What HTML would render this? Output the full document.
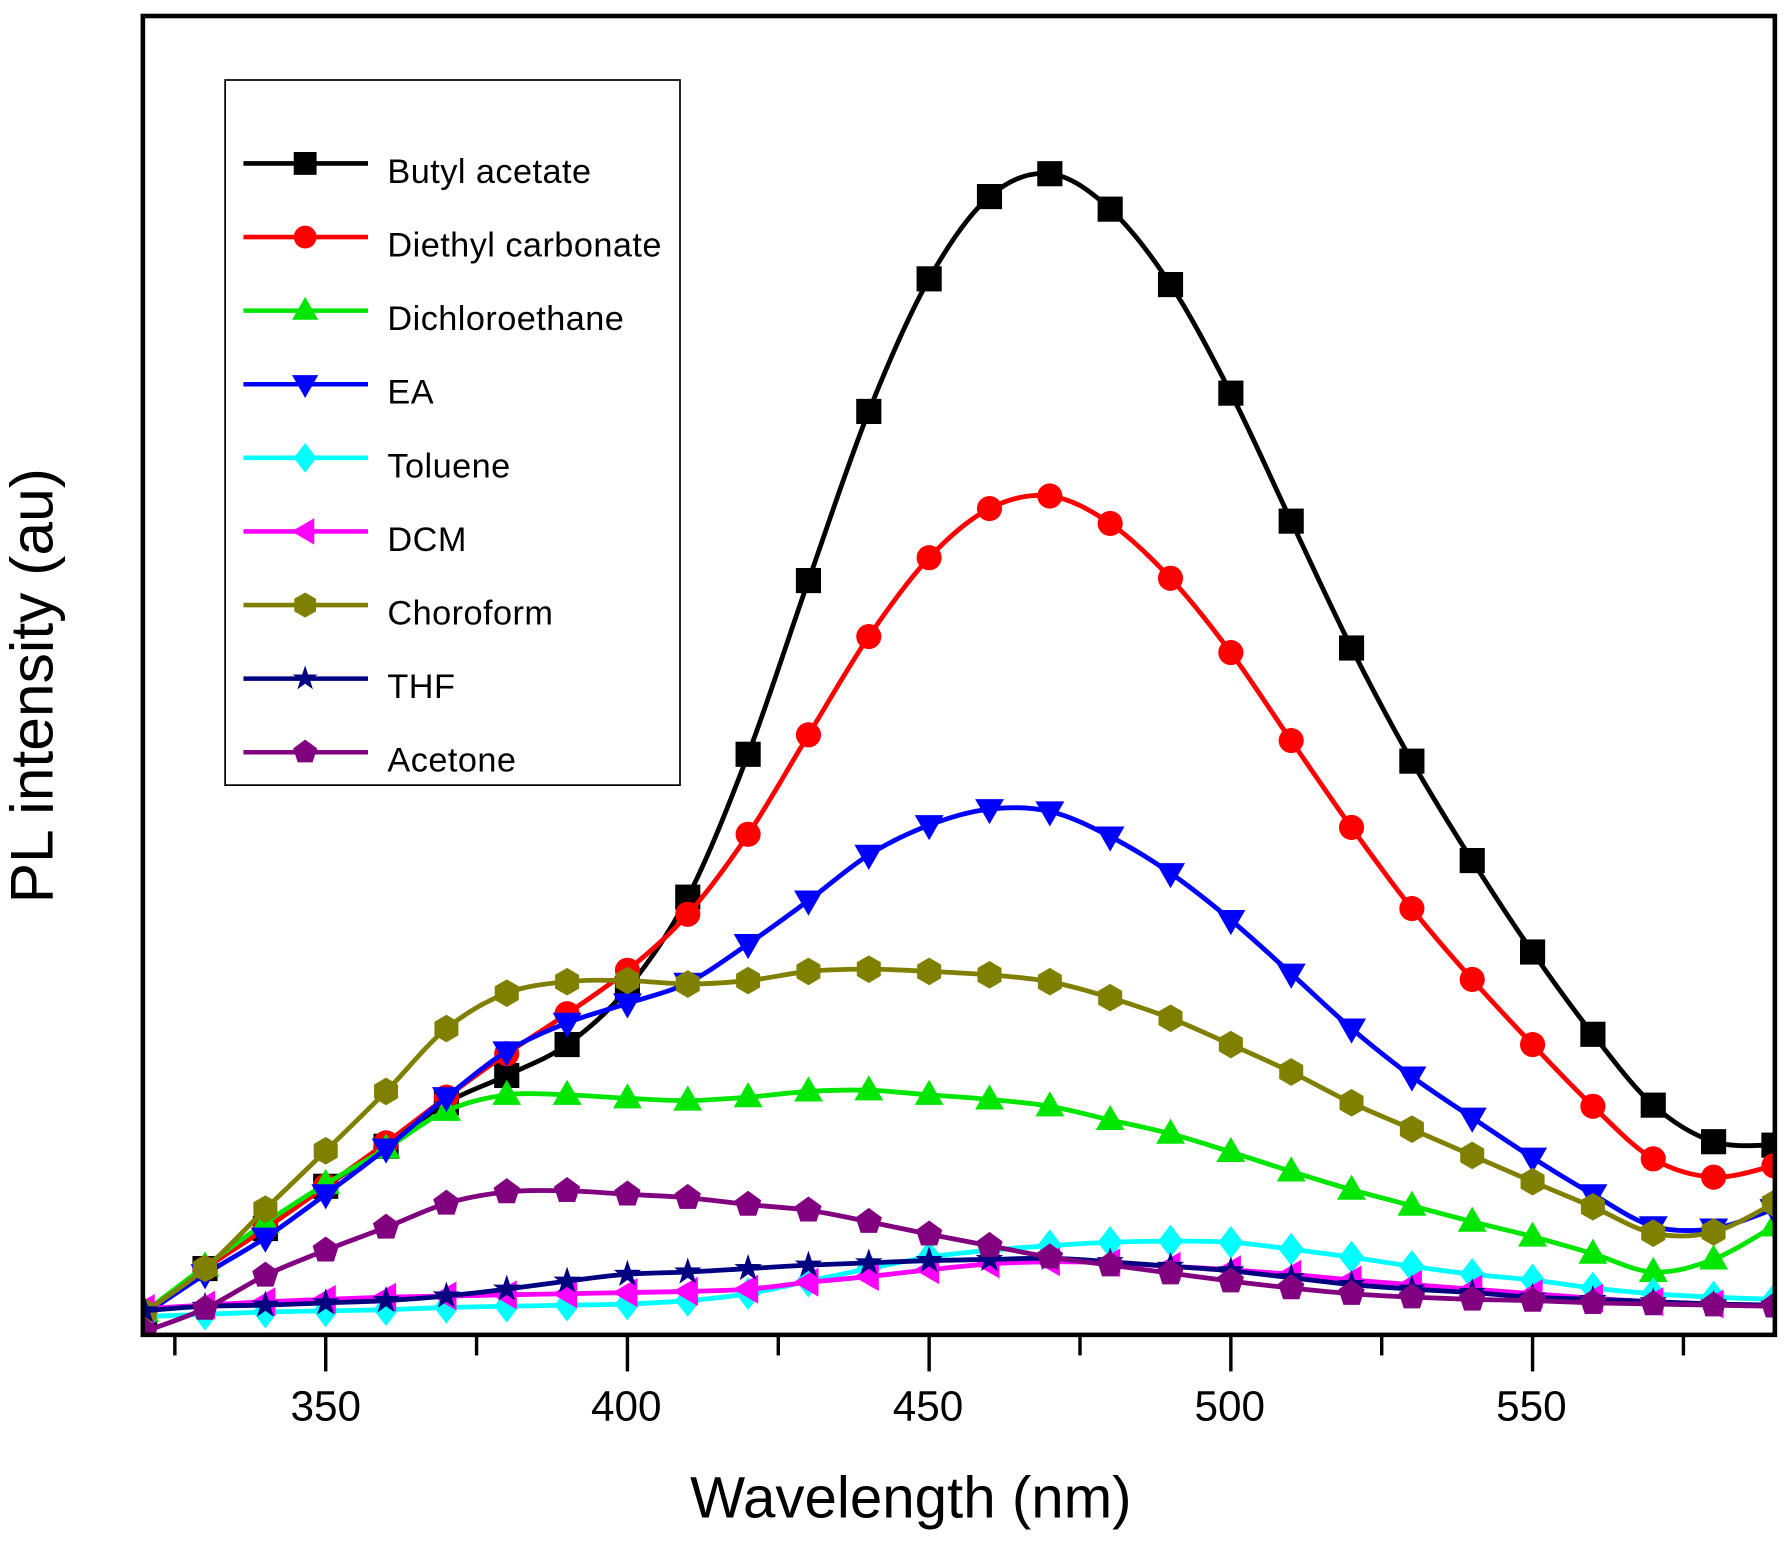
<!DOCTYPE html>
<html><head><meta charset="utf-8"><style>
html,body{margin:0;padding:0;background:#fff}
svg{display:block}
text{font-family:"Liberation Sans",Arial,sans-serif;fill:#000}
</style></head><body>
<svg id="s" width="1792" height="1544" viewBox="0 0 1568 1351" preserveAspectRatio="none" xmlns="http://www.w3.org/2000/svg">
<defs><clipPath id="c"><rect x="125" y="14" width="1428" height="1154"/></clipPath></defs>
<rect x="0" y="0" width="1568" height="1351" fill="#fff"/>
<g id="plot" clip-path="url(#c)"></g>
<rect x="125" y="14" width="1428" height="1154" fill="none" stroke="#000" stroke-width="4"/>
<g id="ticks" stroke="#000" stroke-width="3"></g>
<g font-size="37" text-anchor="middle">
<text x="285" y="1243">350</text><text x="548" y="1243">400</text><text x="812" y="1243">450</text><text x="1076" y="1243">500</text><text x="1340" y="1243">550</text>
</g>
<text x="797" y="1328" font-size="51" text-anchor="middle">Wavelength (nm)</text>
<text transform="translate(46,600) rotate(-90)" font-size="53" text-anchor="middle">PL intensity (au)</text>
<rect x="197" y="70" width="398" height="617" fill="#fff" stroke="#000" stroke-width="1.5"/>
<g id="leg"></g>
</svg>
<script>
var X=function(l){return 285+(l-350)*5.28};
var S=[
["Butyl acetate","#000","sq",[1150,1110,1075,1038,1003,965,941,914,865,785,660,508,360,244,172,152,183,249,344,456,567,666,753,833,905,967,999,1002]],
["Diethyl carbonate","#ff0000","ci",[1150,1110,1075,1038,1000,960,922,887,849,800,730,643,557,488,445,434,458,506,571,648,724,795,857,914,968,1014,1030,1020]],
["Dichloroethane","#00e600","tu",[1148,1108,1070,1036,1005,972,958,958,961,963,960,955,954,958,962,968,980,992,1008,1025,1041,1055,1069,1082,1097,1113,1102,1073]],
["EA","#0000ff","td",[1150,1115,1083,1045,1005,960,920,895,878,860,826,788,748,722,708,710,732,764,805,852,900,942,978,1013,1045,1073,1075,1058]],
["Toluene","#00ffff","di",[1152,1150,1148,1147,1146,1144,1143,1142,1141,1138,1132,1121,1110,1100,1094,1090,1087,1086,1087,1093,1100,1108,1115,1120,1127,1132,1135,1137]],
["DCM","#ff00ff","tl",[1145,1142,1139,1137,1135,1134,1133,1132,1131,1130,1128,1122,1117,1111,1106,1104,1105,1108,1111,1115,1120,1124,1128,1132,1136,1139,1141,1142]],
["Choroform","#808000","hx",[1148,1110,1058,1007,955,900,869,859,858,861,858,850,848,850,853,859,873,891,914,938,965,988,1011,1034,1056,1079,1078,1053]],
["THF","#000080","st",[1147,1143,1142,1140,1138,1134,1128,1121,1115,1113,1110,1107,1105,1103,1102,1101,1104,1108,1112,1118,1124,1128,1131,1135,1137,1139,1141,1142]],
["Acetone","#800080","pe",[1165,1145,1116,1094,1074,1053,1043,1042,1045,1048,1054,1059,1069,1080,1090,1100,1107,1114,1121,1127,1132,1135,1137,1138,1140,1141,1142,1143]]
];
function mk(t,x,y,c,r){r=r||11;
 if(t=="sq")return '<rect x="'+(x-r)+'" y="'+(y-r)+'" width="'+2*r+'" height="'+2*r+'" fill="'+c+'"/>';
 if(t=="ci")return '<circle cx="'+x+'" cy="'+y+'" r="'+r+'" fill="'+c+'"/>';
 function poly(pts){return '<polygon points="'+pts.map(function(a){return (x+a[0]).toFixed(1)+','+(y+a[1]).toFixed(1)}).join(' ')+'" fill="'+c+'"/>';}
 if(t=="tu")return poly([[0,-r*1.2],[r*1.15,r*0.8],[-r*1.15,r*0.8]]);
 if(t=="td")return poly([[0,r*1.2],[r*1.15,-r*0.8],[-r*1.15,-r*0.8]]);
 if(t=="tl")return poly([[-r*1.2,0],[r*0.8,r*1.15],[r*0.8,-r*1.15]]);
 if(t=="di")return poly([[0,-r*1.3],[r,0],[0,r*1.3],[-r,0]]);
 var a=[],i,rr,g;
 if(t=="hx"){for(i=0;i<6;i++){g=Math.PI/6+i*Math.PI/3;a.push([r*1.1*Math.cos(g),r*1.1*Math.sin(g)])}return poly(a);}
 if(t=="pe"){for(i=0;i<5;i++){g=-Math.PI/2+i*2*Math.PI/5;a.push([r*1.1*Math.cos(g),r*1.1*Math.sin(g)])}return poly(a);}
 if(t=="st"){for(i=0;i<10;i++){g=-Math.PI/2+i*Math.PI/5;rr=i%2?r*0.45:r*1.15;a.push([rr*Math.cos(g),rr*Math.sin(g)])}return poly(a);}
}
var h='';
S.forEach(function(s){
 var P=s[3].map(function(y,i){return [X(320+10*i),y]});
 var d='M'+P[0][0]+','+P[0][1];
 for(var i=0;i<P.length-1;i++){var p0=P[Math.max(0,i-1)],p1=P[i],p2=P[i+1],p3=P[Math.min(P.length-1,i+2)];
  d+=' C'+(p1[0]+(p2[0]-p0[0])/6).toFixed(1)+','+(p1[1]+(p2[1]-p0[1])/6).toFixed(1)+' '+(p2[0]-(p3[0]-p1[0])/6).toFixed(1)+','+(p2[1]-(p3[1]-p1[1])/6).toFixed(1)+' '+p2[0].toFixed(1)+','+p2[1];}
 h+='<path d="'+d+'" fill="none" stroke="'+s[1]+'" stroke-width="4.2"/>';
 P.forEach(function(p){h+=mk(s[2],p[0],p[1],s[1])});
});
document.getElementById('plot').innerHTML=h;
var t='';
for(var l=325;l<=590;l+=25){var x=X(l),maj=(l%50==0);t+='<line x1="'+x+'" y1="1168" x2="'+x+'" y2="'+(maj?1200:1186)+'"/>';}
document.getElementById('ticks').innerHTML=t;
var g='';
S.forEach(function(s,i){var y=143+i*64.4;
 g+='<line x1="213" y1="'+y+'" x2="322" y2="'+y+'" stroke="'+s[1]+'" stroke-width="4"/>'+mk(s[2],267,y,s[1],10);
 g+='<text x="339" y="'+(y+17)+'" font-size="30" letter-spacing="0.4">'+s[0]+'</text>';});
document.getElementById('leg').innerHTML=g;
</script>
</body></html>
